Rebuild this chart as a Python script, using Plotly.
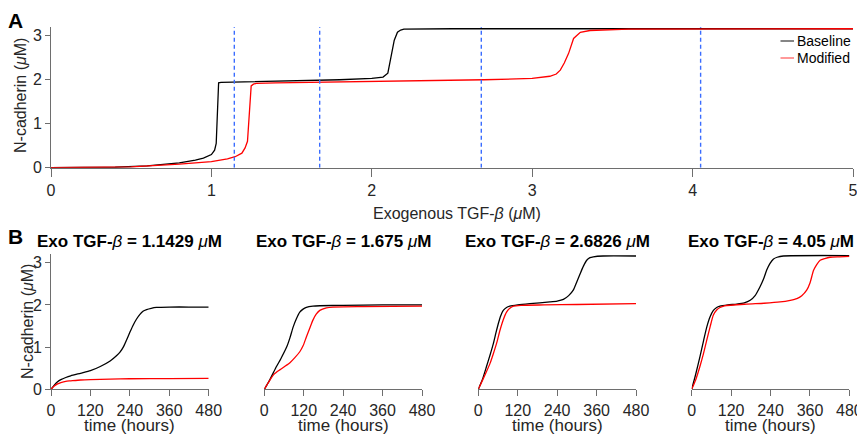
import plotly.graph_objects as go

# ---------------- data ----------------
exo_x_baseline = [0, 0.2, 0.4, 0.6, 0.7, 0.8, 0.9, 0.95, 1.0, 1.02, 1.03, 1.045, 1.06, 1.2, 1.5,
                  1.8, 2.0, 2.07, 2.1, 2.12, 2.14, 2.16, 2.18, 2.2, 2.5, 5.0]
exo_y_baseline = [0, 0.002, 0.01, 0.04, 0.07, 0.11, 0.17, 0.22, 0.3, 0.4, 0.55, 1.93, 1.94, 1.95, 1.97,
                  2.0, 2.03, 2.06, 2.15, 2.5, 2.9, 3.08, 3.13, 3.15, 3.16, 3.16]
exo_x_modified = [0, 0.2, 0.5, 0.8, 0.9, 1.0, 1.1, 1.148, 1.19, 1.21, 1.225, 1.235, 1.248, 1.262, 1.28,
                  1.4, 2.0, 2.7, 3.0, 3.11, 3.15, 3.175, 3.2, 3.227, 3.258, 3.3, 3.36, 3.42, 3.6, 5.0]
exo_y_modified = [0, 0.002, 0.02, 0.08, 0.11, 0.14, 0.2, 0.25, 0.33, 0.45, 0.6, 1.2, 1.86, 1.9, 1.92,
                  1.93, 1.96, 2.0, 2.03, 2.08, 2.13, 2.22, 2.38, 2.6, 2.94, 3.08, 3.12, 3.13, 3.15, 3.16]
exo_selected = [1.1429, 1.675, 2.6826, 4.05]
panel_titles = ["1.1429", "1.675", "2.6826", "4.05"]

t_b1 = [0, 10, 20, 30, 45, 60, 90, 120, 150, 180, 200, 210, 220, 230, 240, 250, 260, 270, 280, 291, 305, 321, 360, 420, 480]
y_b1 = [0, 0.1, 0.18, 0.23, 0.28, 0.32, 0.38, 0.44, 0.54, 0.67, 0.8, 0.88, 1.0, 1.17, 1.35, 1.52, 1.66, 1.77, 1.85, 1.89, 1.92, 1.94, 1.95, 1.95, 1.95]
t_m1 = [0, 10, 20, 30, 45, 60, 90, 120, 180, 240, 360, 480]
y_m1 = [0, 0.08, 0.13, 0.16, 0.19, 0.2, 0.22, 0.23, 0.24, 0.25, 0.255, 0.26]

t_b2 = [0, 15, 37, 50, 68, 78, 88, 98, 108, 118, 128, 148, 169, 240, 360, 480]
y_b2 = [0, 0.2, 0.54, 0.72, 1.0, 1.22, 1.48, 1.68, 1.83, 1.9, 1.94, 1.97, 1.98, 1.99, 2.0, 2.0]
t_m2 = [0, 17, 30, 47, 62, 78, 93, 108, 118, 128, 138, 148, 158, 169, 189, 209, 300, 480]
y_m2 = [0, 0.22, 0.36, 0.46, 0.54, 0.63, 0.75, 0.89, 1.03, 1.24, 1.44, 1.64, 1.78, 1.87, 1.93, 1.95, 1.96, 1.97]

t_b3 = [0, 12, 25, 36, 46, 54, 61, 68, 76, 86, 96, 120, 157, 218, 240, 259, 275, 289, 300, 310, 320, 330, 340, 350, 380, 480]
y_b3 = [0, 0.22, 0.54, 0.82, 1.09, 1.35, 1.56, 1.74, 1.87, 1.94, 1.97, 2.0, 2.03, 2.07, 2.09, 2.13, 2.22, 2.35, 2.55, 2.74, 2.92, 3.06, 3.12, 3.14, 3.16, 3.16]
t_m3 = [0, 12, 25, 36, 46, 56, 66, 76, 86, 96, 107, 130, 200, 300, 480]
y_m3 = [0, 0.2, 0.42, 0.62, 0.85, 1.1, 1.4, 1.65, 1.83, 1.92, 1.97, 1.99, 2.0, 2.01, 2.03]

t_b4 = [0, 12, 25, 36, 46, 56, 66, 76, 86, 110, 137, 160, 178, 193, 208, 218, 228, 238, 249, 260, 279, 480]
y_b4 = [0, 0.35, 0.77, 1.15, 1.48, 1.72, 1.87, 1.94, 1.97, 2.0, 2.02, 2.05, 2.11, 2.22, 2.43, 2.6, 2.82, 2.98, 3.09, 3.13, 3.16, 3.17]
t_m4 = [0, 12, 25, 36, 46, 56, 66, 76, 86, 100, 168, 220, 269, 300, 320, 335, 350, 360, 371, 381, 391, 405, 421, 450, 480]
y_m4 = [0, 0.22, 0.54, 0.85, 1.17, 1.48, 1.76, 1.88, 1.94, 1.98, 2.02, 2.04, 2.07, 2.11, 2.15, 2.22, 2.35, 2.52, 2.82, 2.96, 3.06, 3.1, 3.13, 3.14, 3.15]

time_ticks = [0, 120, 240, 360, 480]
conc_ticks = [0, 1, 2, 3]
exo_ticks = [0, 1, 2, 3, 4, 5]

# ---------------- layout helpers ----------------
W, H = 857, 434
def px(x):
    return x / W
def py(y):
    return 1 - y / H

FONT = "Liberation Sans, Arial, Helvetica, sans-serif"
AX = "#6e6e6e"
TXT = "#262626"
BLACK = "#000000"
RED = "#ff0000"
BLUE = "#3a6cff"

fig = go.Figure()

# top panel
fig.add_trace(go.Scatter(x=exo_x_baseline, y=exo_y_baseline, mode="lines",
                         line=dict(color=BLACK, width=1.3), xaxis="x", yaxis="y", showlegend=False))
fig.add_trace(go.Scatter(x=exo_x_modified, y=exo_y_modified, mode="lines",
                         line=dict(color=RED, width=1.3), xaxis="x", yaxis="y", showlegend=False))
for v in exo_selected:
    fig.add_trace(go.Scatter(x=[v, v], y=[0, 3.2], mode="lines",
                             line=dict(color=BLUE, width=1.4, dash="4px,3px"),
                             xaxis="x", yaxis="y", showlegend=False))

bottom_data = [(t_b1, y_b1, t_m1, y_m1), (t_b2, y_b2, t_m2, y_m2),
               (t_b3, y_b3, t_m3, y_m3), (t_b4, y_b4, t_m4, y_m4)]
for i, (tb, yb, tm, ym) in enumerate(bottom_data):
    xa = "x%d" % (i + 2)
    ya = "y%d" % (i + 2)
    fig.add_trace(go.Scatter(x=tb, y=yb, mode="lines", line=dict(color=BLACK, width=1.3, shape="spline", smoothing=0.6),
                             xaxis=xa, yaxis=ya, showlegend=False))
    fig.add_trace(go.Scatter(x=tm, y=ym, mode="lines", line=dict(color=RED, width=1.3, shape="spline", smoothing=0.6),
                             xaxis=xa, yaxis=ya, showlegend=False))

axis_common = dict(showgrid=False, zeroline=False, showline=True, linecolor=AX, linewidth=1,
                   ticks="outside", tickcolor=AX, tickwidth=1, automargin=False,
                   ticklabeloverflow="allow",
                   tickfont=dict(family=FONT, size=16, color=TXT))

layout = dict(
    width=W, height=H, margin=dict(l=0, r=0, t=0, b=0, pad=0, autoexpand=False),
    paper_bgcolor="white", plot_bgcolor="white", showlegend=False,
    font=dict(family=FONT, color=TXT),
    xaxis=dict(domain=[px(51), px(853)], range=[0, 5], tickvals=exo_ticks, ticklen=8, anchor="y", **axis_common),
    yaxis=dict(domain=[py(167.7), py(27)], range=[0, 3.2], tickvals=conc_ticks, ticklen=5, anchor="x", **axis_common),
)

lefts = [51, 264.3, 478.3, 691.7]
pw = 157.7
for i, L in enumerate(lefts):
    n = i + 2
    layout["xaxis%d" % n] = dict(domain=[px(L), px(L + pw)], range=[0, 480], tickvals=time_ticks,
                                 ticklen=6, anchor="y%d" % n, **axis_common)
    if i == 0:
        layout["yaxis%d" % n] = dict(domain=[py(389.3), py(254.3)], range=[0, 3.2], tickvals=conc_ticks,
                                     ticklen=5, anchor="x%d" % n, **axis_common)
    else:
        layout["yaxis%d" % n] = dict(domain=[py(389.3), py(254.3)], range=[0, 3.2], showgrid=False,
                                     zeroline=False, showline=False, showticklabels=False, ticks="",
                                     automargin=False, anchor="x%d" % n)

fig.update_layout(**layout)

ann = []
def text(x, y, s, size, bold=False, angle=0, xanchor="center", color=TXT):
    ann.append(dict(x=px(x), y=py(y), xref="paper", yref="paper", text=("<b>%s</b>" % s) if bold else s,
                    showarrow=False, xanchor=xanchor, yanchor="middle", textangle=angle,
                    font=dict(family=FONT, size=size, color=color)))

text(16, 20, "A", 21, bold=True, color="#000000")
text(16, 236, "B", 21, bold=True, color="#000000")
text(457, 213, "Exogenous TGF-<i>β</i> (<i>μ</i>M)", 16)
text(20, 96, "N-cadherin (<i>μ</i>M)", 16, angle=-90)
text(27, 322, "N-cadherin (<i>μ</i>M)", 16, angle=-90)
for i, L in enumerate(lefts):
    cx = L + pw / 2
    text(cx, 241, "Exo TGF-<i style='font-weight:normal'>β</i> = %s <i style='font-weight:normal'>μ</i>M" % panel_titles[i], 17, bold=True, color="#000000")
    text(cx, 425, "time (hours)", 17)

# legend (custom, no box)
legend_names = ["Baseline", "Modified"]
legend_colors = ["#333333", "#ff5555"]
shapes = []
for k, (nm, col) in enumerate(zip(legend_names, legend_colors)):
    yy = 41 + 17 * k
    shapes.append(dict(type="line", xref="paper", yref="paper", x0=px(780.5), x1=px(794), y0=py(yy), y1=py(yy),
                       line=dict(color=col, width=1.2)))
    text(795, yy, nm, 14, xanchor="left", color="#000000")

fig.update_layout(annotations=ann, shapes=shapes)
fig.write_html("out.html", config={"displayModeBar": False},
               post_script="document.body.style.margin='0';document.body.style.padding='0';")
